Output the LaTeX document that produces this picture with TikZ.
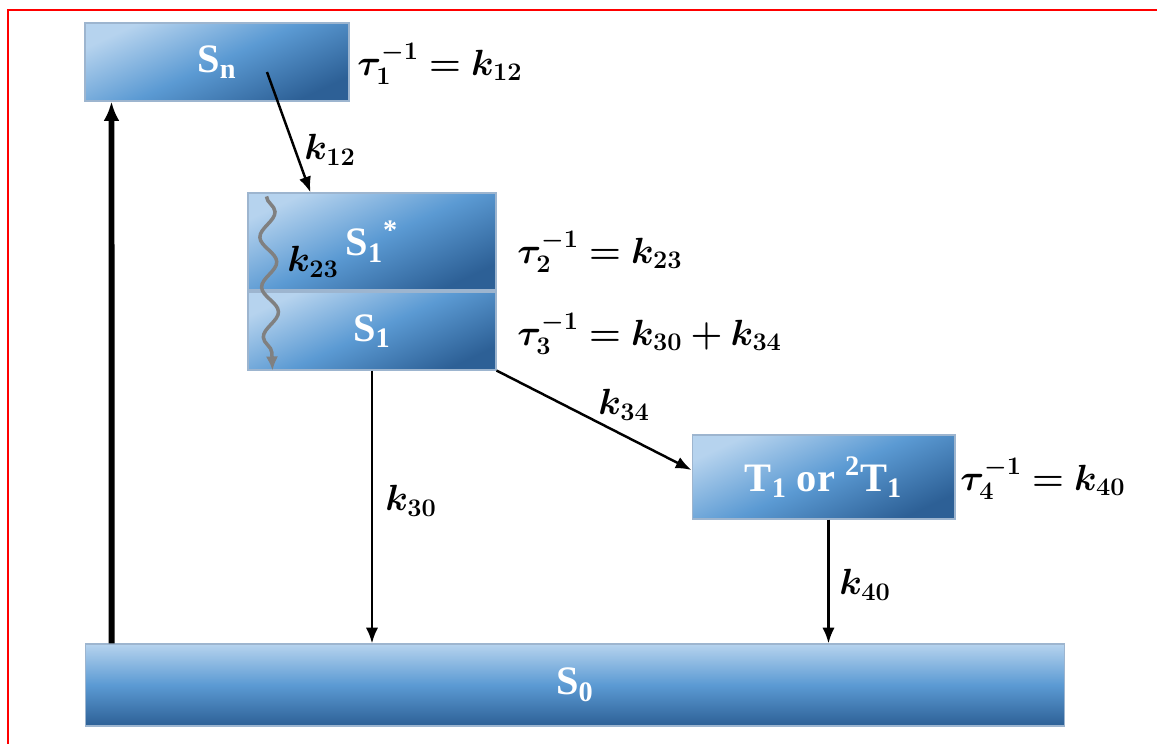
\documentclass[tikz,border=0pt]{standalone}
\usepackage{amsmath, bm}
\usepackage{fontspec}
\newfontfamily\levelfont{Liberation Serif}
\usetikzlibrary{arrows.meta, decorations.pathmorphing}

\definecolor{levtop}{HTML}{B6D3EE}
\definecolor{levmid}{HTML}{5B9AD3}
\definecolor{levbot}{HTML}{2D6096}
\definecolor{levrim}{HTML}{9DB5CF}

\tikzset{
    statebox/.style={rectangle, draw=levrim, line width=0.6pt, top color=levtop, bottom color=levbot, middle color=levmid, text=white, inner sep=0pt, font=\levelfont\bfseries\fontsize{23}{27}\selectfont},
    tiltbox/.style={statebox, shading angle=25},
    rate/.style={-{Latex[length=9pt, width=7pt]}, line width=1.4pt},
    ratelabel/.style={font=\fontsize{20}{24}\selectfont}
}

\begin{document}
\begin{tikzpicture}[x=0.02cm, y=-0.02cm]
    \useasboundingbox (0,0) rectangle (1157,744);
    % Frame
    \draw[red, line width=1.6pt] (8,744) -- (8,10) -- (1157,10);

    % Draw nodes
    \node[tiltbox, minimum width=5.28cm, minimum height=1.56cm] (Sn) at (217,62) {\raisebox{-5pt}{S\textsubscript{n}}};
    \node[tiltbox, minimum width=4.96cm, minimum height=1.94cm] (S1s) at (372,241.5) {\raisebox{-7pt}{S\textsubscript{1}\textsuperscript{*}}};
    \node[tiltbox, minimum width=4.96cm, minimum height=1.56cm] (S1) at (372,331) {\raisebox{-4pt}{S\textsubscript{1}}};
    \node[tiltbox, minimum width=5.26cm, minimum height=1.68cm] (T1) at (823.5,477) {\raisebox{-3pt}{T\textsubscript{1} or \textsuperscript{2}T\textsubscript{1}}};
    \node[statebox, minimum width=19.6cm, minimum height=1.64cm] (S0) at (575,685) {\raisebox{-4pt}{S\textsubscript{0}}};
    \coordinate (k12start) at (267,72);

    % Draw connections
    \draw[-{Latex[length=11pt, width=9pt]}, line width=3.4pt] ([xshift=0.54cm]S0.north west) -- ([xshift=0.54cm]Sn.south west);
    \draw[rate] (k12start) -- ([xshift=1.26cm]S1s.north west);
    \draw[-{Latex[length=8pt, width=7pt]}, line width=2pt, black!50, decorate, decoration={snake, amplitude=0.16cm, segment length=1cm, post length=7pt}] ([xshift=0.38cm, yshift=-0.08cm]S1s.north west) -- ([xshift=0.5cm]S1.south west);
    \draw[rate] (S1.south) -- (S1.south |- S0.north);
    \draw[rate] (S1.south east) -- ([yshift=0.14cm]T1.west);
    \draw[rate] ([xshift=0.1cm]T1.south) -- ([xshift=0.1cm]T1.south |- S0.north);

    % Labels
    \node[ratelabel] (k12) at (330,150) {$\bm{k_{12}}$};
    \node[ratelabel] (k23) at (313,262) {$\bm{k_{23}}$};
    \node[ratelabel] (k30) at (411,501) {$\bm{k_{30}}$};
    \node[ratelabel] (k34) at (624,405) {$\bm{k_{34}}$};
    \node[ratelabel] (k40) at (865,585) {$\bm{k_{40}}$};
    \node[ratelabel, anchor=west, inner sep=0pt] (tau1) at (357,64) {$\bm{\tau_1^{-1} = k_{12}}$};
    \node[ratelabel, anchor=west, inner sep=0pt] (tau2) at (517,252) {$\bm{\tau_2^{-1} = k_{23}}$};
    \node[ratelabel, anchor=west, inner sep=0pt] (tau3) at (517,334) {$\bm{\tau_3^{-1} = k_{30} + k_{34}}$};
    \node[ratelabel, anchor=west, inner sep=0pt] (tau4) at (960,479) {$\bm{\tau_4^{-1} = k_{40}}$};
\end{tikzpicture}
\end{document}
